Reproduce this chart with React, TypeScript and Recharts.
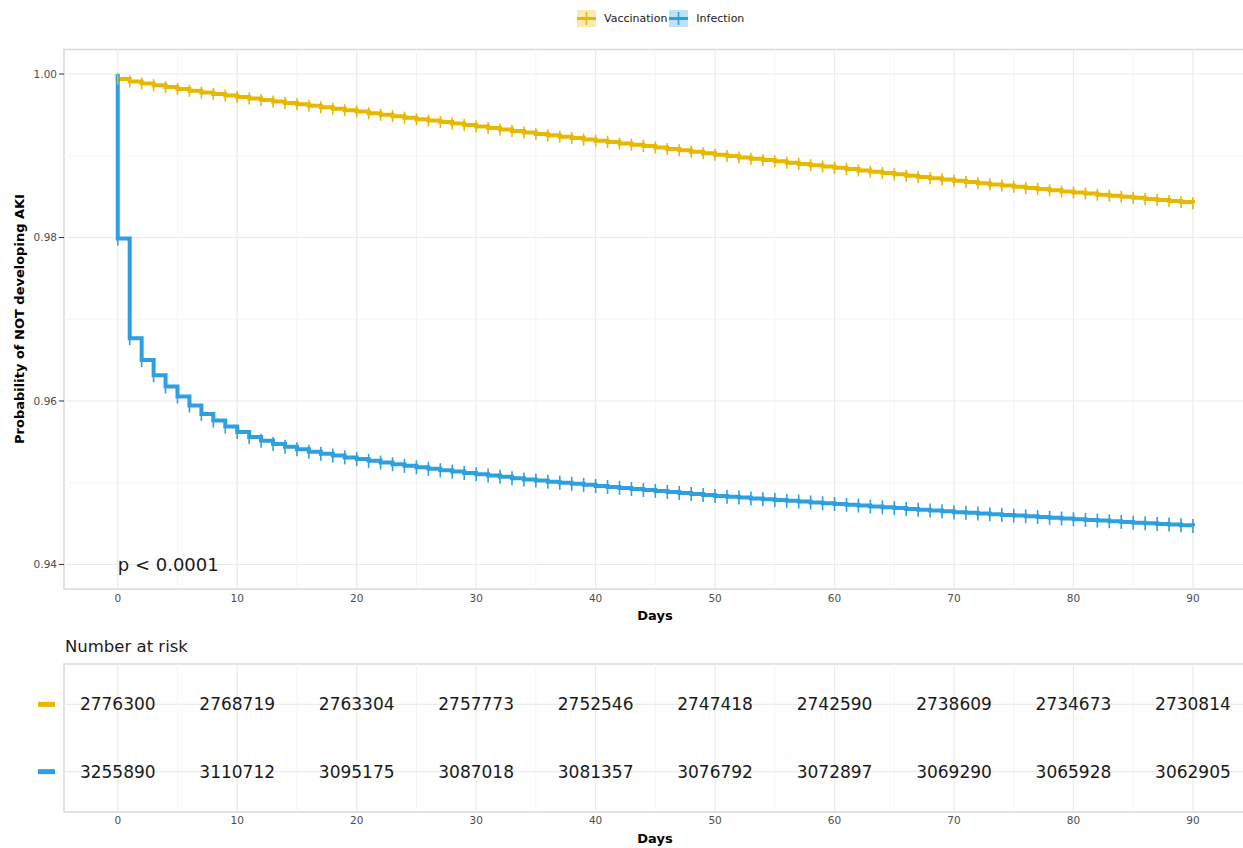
import React from 'react';
import {
  ComposedChart,
  Line,
  Scatter,
  XAxis,
  YAxis,
  ReferenceLine,
  ReferenceArea,
  ReferenceDot,
} from 'recharts';

// survival estimates, day 0..90 (value after that day's events)
const days = Array.from({ length: 91 }, (_, i) => i);

const vaccination = [
  0.9994, 0.9991, 0.99885, 0.99862, 0.9984, 0.99818, 0.99796, 0.99775, 0.99755, 0.99736,
  0.99718, 0.997, 0.99682, 0.99664, 0.99646, 0.9963, 0.99611, 0.99593, 0.99575, 0.99558,
  0.9954, 0.99521, 0.99502, 0.99484, 0.99466, 0.99448, 0.9943, 0.99412, 0.99394, 0.99376,
  0.99358, 0.99339, 0.9932, 0.99302, 0.99284, 0.99266, 0.9925, 0.99233, 0.99216, 0.992,
  0.99184, 0.99168, 0.99151, 0.99135, 0.99118, 0.99102, 0.99084, 0.99066, 0.99048, 0.9903,
  0.99012, 0.98996, 0.9898, 0.98964, 0.98948, 0.98932, 0.98916, 0.989, 0.98884, 0.98868,
  0.98853, 0.98837, 0.98821, 0.98805, 0.98789, 0.98773, 0.98757, 0.98741, 0.98726, 0.9871,
  0.98694, 0.9868, 0.98665, 0.9865, 0.98635, 0.9862, 0.98606, 0.98592, 0.98578, 0.98564,
  0.9855, 0.98537, 0.98524, 0.98511, 0.98498, 0.98485, 0.98472, 0.98459, 0.98446, 0.98433,
  0.9842,
];

const infection = [
  0.97988, 0.96769, 0.965, 0.96316, 0.96177, 0.96054, 0.95944, 0.95842, 0.9576, 0.95687,
  0.9562, 0.9556, 0.95515, 0.95475, 0.9544, 0.9541, 0.9538, 0.95355, 0.95332, 0.9531,
  0.9529, 0.95268, 0.95247, 0.95227, 0.95207, 0.95188, 0.9517, 0.95153, 0.95136, 0.9512,
  0.95104, 0.95088, 0.95072, 0.95056, 0.95041, 0.95026, 0.95013, 0.95, 0.94987, 0.94974,
  0.94961, 0.94949, 0.94937, 0.94924, 0.94912, 0.949, 0.94888, 0.94875, 0.94863, 0.9485,
  0.94838, 0.94828, 0.94818, 0.94808, 0.94798, 0.94788, 0.94779, 0.94769, 0.94759, 0.94749,
  0.9474, 0.9473, 0.9472, 0.9471, 0.947, 0.9469, 0.9468, 0.9467, 0.9466, 0.9465,
  0.9464, 0.94632, 0.94623, 0.94615, 0.94606, 0.94598, 0.94589, 0.9458, 0.94571, 0.94562,
  0.94553, 0.94545, 0.94537, 0.94529, 0.9452, 0.94512, 0.94504, 0.94496, 0.94488, 0.94479,
  0.94471,
];

const riskDays = [0, 10, 20, 30, 40, 50, 60, 70, 80, 90];
const vaccinationAtRisk = [2776300, 2768719, 2763304, 2757773, 2752546, 2747418, 2742590, 2738609, 2734673, 2730814];
const infectionAtRisk = [3255890, 3110712, 3095175, 3087018, 3081357, 3076792, 3072897, 3069290, 3065928, 3062905];

const xMajor = [0, 10, 20, 30, 40, 50, 60, 70, 80, 90];
const xMinor = [5, 15, 25, 35, 45, 55, 65, 75, 85];
const yMajor = [0.94, 0.96, 0.98, 1.0];
const yMinor = [0.95, 0.97, 0.99];

const groups = ['Vaccination', 'Infection'];
const colors = ['#E7B800', '#2E9FDF'];

const FONT = '"DejaVu Sans", sans-serif';
const GRID = '#EBEBEB';
const GRID_MINOR = '#F5F5F5';
const BORDER = '#D9D9D9';
const TICK_TEXT = '#4D4D4D';

const curveData = [
  { day: 0, vac: 1, inf: 1 },
  ...days.map((d, i) => ({ day: d, vac: vaccination[i], inf: infection[i] })),
];

const riskData = groups.map((_, g) =>
  riskDays.map((d, i) => ({
    day: d,
    row: g === 0 ? 2 : 1,
    n: g === 0 ? vaccinationAtRisk[i] : infectionAtRisk[i],
  }))
);

const censorMark = (color: string, h: number) => (props: any) => {
  const { cx, cy, index } = props;
  if (index === 0 || cx == null) return <g key={`c-${index}`} />;
  return (
    <line
      key={`c-${index}`}
      x1={cx}
      x2={cx}
      y1={cy - h / 2}
      y2={cy + h / 2}
      stroke={color}
      strokeWidth={1.6}
    />
  );
};

const axisTitle = (text: string, y: number) => ({
  content: () => (
    <text x={655} y={y} textAnchor="middle" dominantBaseline="central" fontSize={13} fontWeight="bold" fill="#000">
      {text}
    </text>
  ),
});

function LegendKey({ color }: { color: string }) {
  return (
    <svg width={19} height={17} style={{ display: 'block' }}>
      <rect x={0} y={0} width={19} height={17} fill={color} fillOpacity={0.3} />
      <line x1={0} x2={19} y1={8.5} y2={8.5} stroke={color} strokeWidth={3} />
      <line x1={9.5} x2={9.5} y1={2} y2={15} stroke={color} strokeWidth={1.6} />
    </svg>
  );
}

function RiskText(props: any) {
  const { cx, cy, payload } = props;
  return (
    <text x={cx} y={cy} textAnchor="middle" dominantBaseline="central" fontSize={17} fill="#1a1a1a">
      {payload.n}
    </text>
  );
}

function RiskTick(props: any) {
  const { y, payload } = props;
  const color = payload.value === 2 ? colors[0] : colors[1];
  return <rect x={38} y={y - 2.5} width={17} height={5} fill={color} />;
}

export default function App() {
  return (
    <div
      style={{
        position: 'absolute',
        left: 0,
        top: 0,
        width: 1243,
        height: 848,
        overflow: 'hidden',
        background: '#fff',
        fontFamily: FONT,
      }}
    >
      {/* legend */}
      <div style={{ position: 'absolute', top: 10, left: 577, display: 'flex', alignItems: 'center', fontSize: 11, color: '#1a1a1a' }}>
        {groups.map((g, i) => (
          <div key={g} style={{ display: 'flex', alignItems: 'center', marginRight: 2 }}>
            <LegendKey color={colors[i]} />
            <span style={{ marginLeft: 8 }}>{g}</span>
          </div>
        ))}
      </div>

      {/* survival curves */}
      <div style={{ position: 'absolute', left: 0, top: 0 }}>
        <ComposedChart width={1262} height={630} data={curveData} margin={{ top: 49.5, right: 15.3, bottom: 0, left: 0 }}>
          <ReferenceArea x1={-4.5} x2={94.5} y1={0.937} y2={1.003} fill="#fff" stroke="none" />
          {xMinor.map((v) => (
            <ReferenceLine key={`xm${v}`} x={v} stroke={GRID_MINOR} strokeWidth={1} />
          ))}
          {yMinor.map((v) => (
            <ReferenceLine key={`ym${v}`} y={v} stroke={GRID_MINOR} strokeWidth={1} />
          ))}
          {xMajor.map((v) => (
            <ReferenceLine key={`x${v}`} x={v} stroke={GRID} strokeWidth={1.2} />
          ))}
          {yMajor.map((v) => (
            <ReferenceLine key={`y${v}`} y={v} stroke={GRID} strokeWidth={1.2} />
          ))}
          <XAxis
            dataKey="day"
            type="number"
            domain={[-4.5, 94.5]}
            ticks={xMajor}
            allowDataOverflow
            height={41}
            axisLine={false}
            tickLine={false}
            tickSize={4}
            tickMargin={2}
            tick={{ fontSize: 10.5, fill: TICK_TEXT }}
            label={axisTitle('Days', 615)}
          />
          <YAxis
            type="number"
            domain={[0.937, 1.003]}
            ticks={yMajor}
            allowDataOverflow
            width={64}
            axisLine={false}
            tickLine={{ stroke: '#333', strokeWidth: 1 }}
            tickSize={5}
            tickMargin={2}
            tickFormatter={(v: number) => v.toFixed(2)}
            tick={{ fontSize: 10.5, fill: TICK_TEXT }}
            label={{
              content: () => (
                <text
                  x={19}
                  y={319}
                  transform="rotate(-90 19 319)"
                  textAnchor="middle"
                  dominantBaseline="central"
                  fontSize={13}
                  fontWeight="bold"
                  fill="#000"
                >
                  Probability of NOT developing AKI
                </text>
              ),
            }}
          />
          <Line
            dataKey="vac"
            type="stepAfter"
            stroke={colors[0]}
            strokeWidth={4}
            dot={censorMark(colors[0], 12)}
            activeDot={false}
            isAnimationActive={false}
          />
          <Line
            dataKey="inf"
            type="stepAfter"
            stroke={colors[1]}
            strokeWidth={4}
            dot={censorMark(colors[1], 14)}
            activeDot={false}
            isAnimationActive={false}
          />
          <ReferenceDot
            x={0}
            y={0.94}
            r={0}
            shape={(p: any) => (
              <text x={p.cx} y={p.cy} textAnchor="start" dominantBaseline="central" fontSize={18} fill="#1a1a1a">
                p &lt; 0.0001
              </text>
            )}
          />
          <ReferenceArea x1={-4.5} x2={94.5} y1={0.937} y2={1.003} fill="none" stroke={BORDER} strokeWidth={1.5} />
        </ComposedChart>
      </div>

      {/* risk table */}
      <div style={{ position: 'absolute', left: 65, top: 637, fontSize: 16.5, color: '#1a1a1a' }}>Number at risk</div>
      <div style={{ position: 'absolute', left: 0, top: 640 }}>
        <ComposedChart width={1262} height={208} margin={{ top: 24, right: 15.3, bottom: 0, left: 0 }}>
          {xMinor.map((v) => (
            <ReferenceLine key={`rxm${v}`} x={v} stroke={GRID_MINOR} strokeWidth={1} />
          ))}
          {xMajor.map((v) => (
            <ReferenceLine key={`rx${v}`} x={v} stroke={GRID} strokeWidth={1.2} />
          ))}
          {[1, 2].map((v) => (
            <ReferenceLine key={`ry${v}`} y={v} stroke={GRID} strokeWidth={1.2} />
          ))}
          <XAxis
            dataKey="day"
            type="number"
            domain={[-4.5, 94.5]}
            ticks={xMajor}
            allowDataOverflow
            height={36}
            axisLine={false}
            tickLine={false}
            tickSize={3}
            tickMargin={2}
            tick={{ fontSize: 10.5, fill: TICK_TEXT }}
            label={axisTitle('Days', 198)}
          />
          <YAxis
            dataKey="row"
            type="number"
            domain={[0.4, 2.6]}
            ticks={[1, 2]}
            allowDataOverflow
            width={64}
            axisLine={false}
            tickLine={false}
            tick={<RiskTick />}
          />
          {riskData.map((rows, g) => (
            <Scatter key={groups[g]} data={rows} dataKey="row" shape={<RiskText />} isAnimationActive={false} />
          ))}
          <ReferenceArea x1={-4.5} x2={94.5} y1={0.4} y2={2.6} fill="none" stroke={BORDER} strokeWidth={1.5} />
        </ComposedChart>
      </div>
    </div>
  );
}
